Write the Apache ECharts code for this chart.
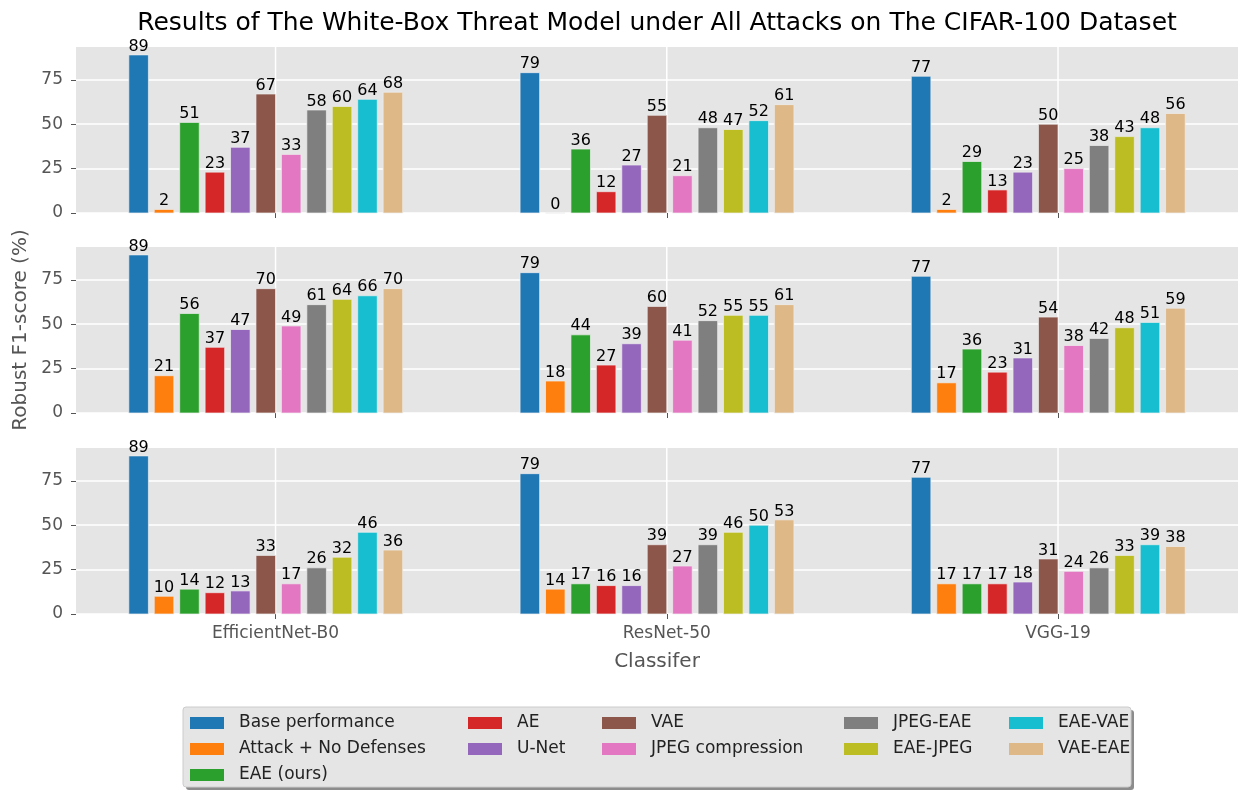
<!DOCTYPE html>
<html>
<head>
<meta charset="utf-8">
<script src="https://cdn.jsdelivr.net/npm/echarts@6/dist/echarts.min.js"></script>
<style>
  html, body { margin: 0; padding: 0; background: #ffffff; }
  #chart { width: 1239px; height: 791px; }
</style>
</head>
<body>
<div id="chart"></div>
<script>
// Classifiers on the x axis and the defence methods drawn as bars in each group
const CLASSIFIERS = ['EfficientNet-B0', 'ResNet-50', 'VGG-19'];
const METHODS = [
  'Base performance', 'Attack + No Defenses', 'EAE (ours)', 'AE', 'U-Net', 'VAE',
  'JPEG compression', 'JPEG-EAE', 'EAE-JPEG', 'EAE-VAE', 'VAE-EAE'
];
const COLORS = [
  '#1f77b4', '#ff7f0e', '#2ca02c', '#d62728', '#9467bd', '#8c564b',
  '#e377c2', '#7f7f7f', '#bcbd22', '#17becf', '#deb887'
];

// Robust F1-score (%) per method, one array per panel and classifier
const topEfficientNet = [89, 2, 51, 23, 37, 67, 33, 58, 60, 64, 68];
const topResNet       = [79, 0, 36, 12, 27, 55, 21, 48, 47, 52, 61];
const topVGG          = [77, 2, 29, 13, 23, 50, 25, 38, 43, 48, 56];

const midEfficientNet = [89, 21, 56, 37, 47, 70, 49, 61, 64, 66, 70];
const midResNet       = [79, 18, 44, 27, 39, 60, 41, 52, 55, 55, 61];
const midVGG          = [77, 17, 36, 23, 31, 54, 38, 42, 48, 51, 59];

const botEfficientNet = [89, 10, 14, 12, 13, 33, 17, 26, 32, 46, 36];
const botResNet       = [79, 14, 17, 16, 16, 39, 27, 39, 46, 50, 53];
const botVGG          = [77, 17, 17, 17, 18, 31, 24, 26, 33, 39, 38];

const PANELS = [
  [topEfficientNet, topResNet, topVGG],
  [midEfficientNet, midResNet, midVGG],
  [botEfficientNet, botResNet, botVGG]
];

const Y_TICKS = [0, 25, 50, 75];
const X_TICKS = [0, 1, 2];

// Axis limits and bar geometry, in axis units
const Y_MAX = 93.45;
const X_MIN = -0.51;
const X_MAX = 2.46;
const BAR_PITCH = 0.065;
const BAR_WIDTH = 0.05;
const BAR_SHIFT = -0.025;

const FONT = 'DejaVu Sans';
const GRID_TOPS = [47, 247, 448];
const GRID_HEIGHT = 166;

// Legend columns (matplotlib-style column-major order)
const LEGEND_COLUMNS = [
  ['Base performance', 'Attack + No Defenses', 'EAE (ours)'],
  ['AE', 'U-Net'],
  ['VAE', 'JPEG compression'],
  ['JPEG-EAE', 'EAE-JPEG'],
  ['EAE-VAE', 'VAE-EAE']
];
const LEGEND_LEFTS = [190, 468, 602, 844, 1009];

function makeRenderItem(methodIndex) {
  return function (params, api) {
    const g = api.value(0);
    const v = api.value(1);
    const xc = g + (methodIndex - 5) * BAR_PITCH + BAR_SHIFT;
    const tl = api.coord([xc - BAR_WIDTH / 2, v]);
    const br = api.coord([xc + BAR_WIDTH / 2, 0]);
    return {
      type: 'group',
      children: [
        {
          type: 'rect',
          shape: { x: tl[0], y: tl[1], width: br[0] - tl[0], height: br[1] - tl[1] },
          style: { fill: COLORS[methodIndex], stroke: '#EEEEEE', lineWidth: 0.7 }
        },
        {
          type: 'text',
          style: {
            text: String(v),
            x: (tl[0] + br[0]) / 2,
            y: tl[1] - 0.5,
            align: 'center',
            verticalAlign: 'bottom',
            font: '16px "' + FONT + '"',
            fill: '#000000'
          }
        }
      ]
    };
  };
}

// Vertical white grid line at each classifier position
function renderGridLine(params, api) {
  const x = api.value(0);
  const top = api.coord([x, Y_MAX]);
  const bottom = api.coord([x, 0]);
  return {
    type: 'line',
    shape: { x1: top[0], y1: top[1], x2: bottom[0], y2: bottom[1] },
    style: { stroke: '#FFFFFF', lineWidth: 1.5 }
  };
}

const grids = GRID_TOPS.map(top => ({
  left: 76, width: 1162, top: top, height: GRID_HEIGHT,
  show: true, backgroundColor: '#E5E5E5', borderWidth: 0
}));

const xAxes = GRID_TOPS.map((_, i) => ({
  type: 'value', gridIndex: i, min: X_MIN, max: X_MAX,
  axisLine: { show: false, onZero: false },
  axisTick: { show: true, customValues: X_TICKS, length: 5, lineStyle: { color: '#555555', width: 1 } },
  axisLabel: {
    show: i === 2, customValues: X_TICKS, margin: 11,
    formatter: v => CLASSIFIERS[Math.round(v)] || '',
    color: '#555555', fontSize: 17, fontFamily: FONT
  },
  splitLine: { show: false },
  name: i === 2 ? 'Classifer' : '',
  nameLocation: 'middle', nameGap: 38,
  nameTextStyle: { color: '#555555', fontSize: 20, fontFamily: FONT }
}));

const yAxes = GRID_TOPS.map((_, i) => ({
  type: 'value', gridIndex: i, min: 0, max: Y_MAX,
  axisLine: { show: false, onZero: false },
  axisTick: { show: true, customValues: Y_TICKS, length: 5, lineStyle: { color: '#555555', width: 1 } },
  axisLabel: { customValues: Y_TICKS, margin: 13, color: '#555555', fontSize: 17, fontFamily: FONT },
  splitLine: { show: true, lineStyle: { color: '#FFFFFF', width: 1.5 } },
  name: i === 1 ? 'Robust F1-score (%)' : '',
  nameLocation: 'middle', nameGap: 42, nameRotate: 90,
  nameTextStyle: { color: '#555555', fontSize: 20, fontFamily: FONT }
}));

const series = [];
PANELS.forEach((panel, p) => {
  series.push({
    type: 'custom',
    xAxisIndex: p,
    yAxisIndex: p,
    silent: true,
    z: 1,
    encode: { x: 0 },
    data: X_TICKS.map(x => [x]),
    renderItem: renderGridLine
  });
  METHODS.forEach((name, m) => {
    series.push({
      type: 'custom',
      name: name,
      xAxisIndex: p,
      yAxisIndex: p,
      clip: false,
      z: 3,
      itemStyle: { color: COLORS[m] },
      encode: { x: 0, y: 1 },
      data: CLASSIFIERS.map((c, g) => [g, panel[g][m]]),
      renderItem: makeRenderItem(m)
    });
  });
});

const legends = LEGEND_COLUMNS.map((names, k) => ({
  data: names.map(n => ({ name: n, icon: 'rect' })),
  orient: 'vertical',
  left: LEGEND_LEFTS[k],
  top: 714.5,
  padding: 0,
  itemWidth: 34,
  itemHeight: 12,
  itemGap: 9,
  selectedMode: false,
  textStyle: { fontSize: 17, color: '#222222', fontFamily: FONT, padding: [0, 0, 0, 10] }
}));

const chart = echarts.init(document.getElementById('chart'), null, { renderer: 'canvas' });
chart.setOption({
  animation: false,
  backgroundColor: '#ffffff',
  textStyle: { fontFamily: FONT },
  title: {
    text: 'Results of The White-Box Threat Model under All Attacks on The CIFAR-100 Dataset',
    left: 652, top: 6, textAlign: 'center',
    textStyle: { fontSize: 25, fontWeight: 'normal', color: '#000000', fontFamily: FONT }
  },
  grid: grids,
  xAxis: xAxes,
  yAxis: yAxes,
  legend: legends,
  graphic: [
    { type: 'rect', z: 0, silent: true,
      shape: { x: 186, y: 710, width: 948, height: 80, r: 3 },
      style: { fill: 'rgba(0,0,0,0.45)' } },
    { type: 'rect', z: 1, silent: true,
      shape: { x: 183, y: 707, width: 948, height: 80, r: 3 },
      style: { fill: '#E5E5E5', stroke: '#CCCCCC', lineWidth: 1 } }
  ],
  series: series
});
</script>
</body>
</html>
